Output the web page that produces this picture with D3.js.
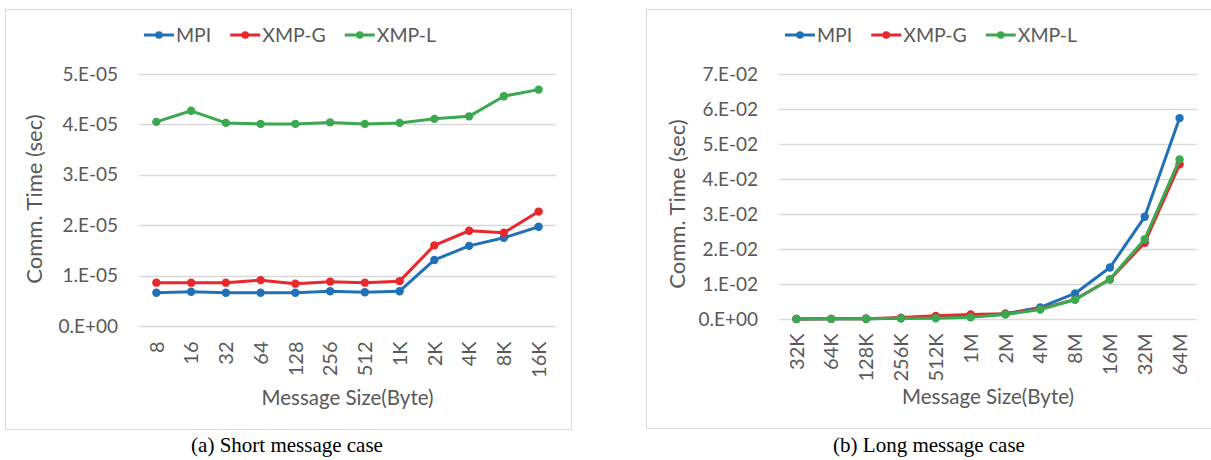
<!DOCTYPE html>
<html><head><meta charset="utf-8">
<script src="https://cdn.jsdelivr.net/npm/d3@7"></script>
<style>
body{margin:0;background:#fff;}
svg{display:block;}
</style></head>
<body><svg id="c" width="1211" height="460"></svg>
<script>
const seriesNames = ["MPI", "XMP-G", "XMP-L"];
const seriesColors = ["#2171b8", "#e8282c", "#3aa94f"];

const shortSizes = ["8","16","32","64","128","256","512","1K","2K","4K","8K","16K"];
const shortMPI  = [0.66e-5,0.68e-5,0.66e-5,0.66e-5,0.66e-5,0.69e-5,0.67e-5,0.69e-5,1.31e-5,1.59e-5,1.75e-5,1.97e-5];
const shortXMPG = [0.86e-5,0.86e-5,0.86e-5,0.91e-5,0.84e-5,0.88e-5,0.86e-5,0.89e-5,1.60e-5,1.89e-5,1.85e-5,2.27e-5];
const shortXMPL = [4.05e-5,4.27e-5,4.03e-5,4.01e-5,4.01e-5,4.04e-5,4.01e-5,4.03e-5,4.11e-5,4.16e-5,4.56e-5,4.69e-5];
const shortTicks = [0,1e-5,2e-5,3e-5,4e-5,5e-5];
const shortTickLabels = ["0.E+00","1.E-05","2.E-05","3.E-05","4.E-05","5.E-05"];

const longSizes = ["32K","64K","128K","256K","512K","1M","2M","4M","8M","16M","32M","64M"];
const longMPI  = [0.00002,0.00004,0.00008,0.0002,0.0004,0.0008,0.0015,0.0033,0.0073,0.0147,0.0292,0.0574];
const longXMPG = [0.00003,0.00005,0.0001,0.0004,0.0009,0.0013,0.0015,0.0029,0.0056,0.0113,0.0218,0.0442];
const longXMPL = [0.00002,0.00004,0.00008,0.0002,0.0002,0.0005,0.0013,0.0027,0.0055,0.0114,0.0228,0.0456];
const longTicks = [0,0.01,0.02,0.03,0.04,0.05,0.06,0.07];
const longTickLabels = ["0.E+00","1.E-02","2.E-02","3.E-02","4.E-02","5.E-02","6.E-02","7.E-02"];

const yTitle = "Comm. Time (sec)";
const xTitle = "Message Size(Byte)";
const captions = ["(a) Short message case", "(b) Long message case"];

const svg = d3.select("#c");
const FONT = "Lato, 'Open Sans', sans-serif";
const TXT = "#595959";
const GRID = "#d9d9d9";

function chart(cfg){
  const g = svg.append("g");
  g.append("rect").attr("x",cfg.box[0]+0.5).attr("y",cfg.box[1]+0.5)
    .attr("width",cfg.box[2]-cfg.box[0]).attr("height",cfg.box[3]-cfg.box[1])
    .attr("fill","none").attr("stroke",GRID).attr("stroke-width",1);
  const x = d3.scaleBand().domain(cfg.cats).range([cfg.plot[0],cfg.plot[2]]);
  const y = d3.scaleLinear().domain([0,cfg.ticks[cfg.ticks.length-1]]).range([cfg.plot[3],cfg.plot[1]]);
  g.selectAll("line.grid").data(cfg.ticks).join("line").attr("class","grid")
    .attr("x1",cfg.plot[0]).attr("x2",cfg.plot[2])
    .attr("y1",d=>Math.round(y(d))+0.5).attr("y2",d=>Math.round(y(d))+0.5)
    .attr("stroke",GRID).attr("stroke-width",1.3);
  const yAxis = d3.axisLeft(y).tickValues(cfg.ticks).tickFormat((d,i)=>cfg.tickLabels[i]).tickSize(0).tickPadding(21);
  const ya = g.append("g").attr("transform",`translate(${cfg.plot[0]},0)`).call(yAxis);
  ya.select(".domain").remove();
  ya.selectAll("text").attr("fill",TXT).style("font-family",FONT).style("font-size","19px");
  const xAxis = d3.axisBottom(x).tickSize(0).tickPadding(0);
  const xa = g.append("g").attr("transform",`translate(0,${cfg.plot[3]})`).call(xAxis);
  xa.select(".domain").remove();
  xa.selectAll("text").attr("fill",TXT).style("font-family",FONT).style("font-size","20px")
    .attr("text-anchor","end").attr("transform",`translate(0,${cfg.xLabOff}) rotate(-90)`)
    .attr("x",0).attr("y",0).attr("dy","0.36em");
  g.append("text").attr("transform",`translate(${cfg.yTitlePos[0]},${cfg.yTitlePos[1]}) rotate(-90)`)
    .attr("text-anchor","middle").attr("dy","0.35em").attr("fill",TXT)
    .style("font-family",FONT).style("font-size","22px").text(yTitle);
  g.append("text").attr("x",(cfg.plot[0]+cfg.plot[2])/2).attr("y",cfg.xTitleY)
    .attr("text-anchor","middle").attr("fill",TXT)
    .style("font-family",FONT).style("font-size","20.5px").text(xTitle);
  const line = d3.line().x((d,i)=>x(cfg.cats[i])+x.bandwidth()/2).y(d=>y(d));
  cfg.series.forEach((vals,si)=>{
    g.append("path").datum(vals).attr("d",line).attr("fill","none")
      .attr("stroke",seriesColors[si]).attr("stroke-width",3).attr("stroke-linejoin","round");
    g.selectAll(null).data(vals).join("circle")
      .attr("cx",(d,i)=>x(cfg.cats[i])+x.bandwidth()/2).attr("cy",d=>y(d)).attr("r",4.2)
      .attr("fill",seriesColors[si]);
  });
  const lg = g.append("g");
  let cx = 0;
  seriesNames.forEach((n,i)=>{
    const it = lg.append("g").attr("transform",`translate(${cx},0)`);
    it.append("line").attr("x1",0).attr("x2",30).attr("y1",0).attr("y2",0)
      .attr("stroke",seriesColors[i]).attr("stroke-width",3);
    it.append("circle").attr("cx",15).attr("cy",0).attr("r",3.8).attr("fill",seriesColors[i]);
    const t = it.append("text").attr("x",32).attr("dy","0.35em").attr("fill",TXT)
      .style("font-family",FONT).style("font-size","19.5px").text(n);
    cx += 32 + t.node().getComputedTextLength() + 19;
  });
  const lw = cx - 19;
  lg.attr("transform",`translate(${cfg.legendCenter - lw/2},${cfg.legendY})`);
  g.append("text").attr("x",cfg.captionX).attr("y",452).attr("text-anchor","middle")
    .attr("fill","#000").style("font-family","'Liberation Serif', 'Times New Roman', serif")
    .style("font-size","21px").text(cfg.caption);
}

chart({
  box:[5,9,571,429], plot:[139,74,556,326], cats:shortSizes,
  series:[shortMPI,shortXMPG,shortXMPL], ticks:shortTicks, tickLabels:shortTickLabels,
  xLabOff:15.5, yTitlePos:[34,199], xTitleY:405, legendCenter:290, legendY:35,
  caption:captions[0], captionX:287
});
chart({
  box:[646,9,1215,428], plot:[779,74,1197,319], cats:longSizes,
  series:[longMPI,longXMPG,longXMPL], ticks:longTicks, tickLabels:longTickLabels,
  xLabOff:14.5, yTitlePos:[677,204], xTitleY:404, legendCenter:931, legendY:35,
  caption:captions[1], captionX:929
});
</script></body></html>
